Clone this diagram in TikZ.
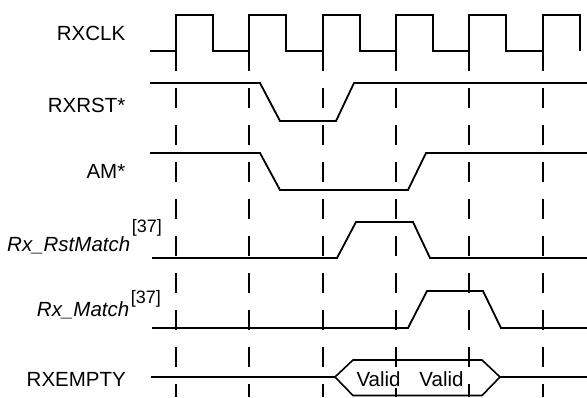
\documentclass[tikz,border=0pt]{standalone}
\usepackage{fontspec}
\setmainfont{Liberation Sans}
\begin{document}
\begin{tikzpicture}[x=1pt,y=-1pt,
  sig/.style={line width=1.8pt, line join=miter},
  grid/.style={line width=1.8pt, dash pattern=on 20pt off 17pt},
  lbl/.style={anchor=base east, inner sep=0pt, font=\fontsize{20.5}{24}\selectfont},
  vtxt/.style={anchor=base, inner sep=0pt, font=\fontsize{20.5}{24}\selectfont}]
\useasboundingbox (0,0) rectangle (587,397);
% labels
\node[lbl] (lclk) at (125.5,40) {RXCLK};
\node[lbl] (lrst) at (125.5,112) {RXRST*};
\node[lbl] (lam) at (125.5,178) {AM*};
\node[lbl] (lrm) at (162,251) {\itshape Rx\_RstMatch\upshape\kern1.5pt\raisebox{19pt}{\fontsize{18}{20}\selectfont[37]}};
\node[lbl] (lm) at (161,316) {\itshape Rx\_Match\upshape\kern1.5pt\raisebox{13pt}{\fontsize{18}{20}\selectfont[37]}};
\node[lbl] (lemp) at (126,386.7) {RXEMPTY};
% dashed reference lines at rising edges
\foreach \k in {0,...,5}{
  \draw[grid] ({176+73.33*\k},51) -- ({176+73.33*\k},397);
}
% clock
\draw[sig] (150,51)
  \foreach \k in {0,...,5}{ -- ({176+73.33*\k},51) -- ({176+73.33*\k},15) -- ({213+73.33*\k},15) -- ({213+73.33*\k},51) };
% RXRST*
\draw[sig] (150,83) -- (260,83) -- (280,121) -- (336,121) -- (354,83) -- (587,83);
% AM*
\draw[sig] (150,153) -- (260,153) -- (280,190) -- (408,190) -- (426,153) -- (587,153);
% Rx_RstMatch
\draw[sig] (152,258) -- (337,258) -- (356,222) -- (413,222) -- (430,258) -- (587,258);
% Rx_Match
\draw[sig] (152,328) -- (408,328) -- (427,291) -- (483,291) -- (501,328) -- (587,328);
% RXEMPTY
\coordinate (hl) at (335,377);
\coordinate (hr) at (500,377);
\draw[sig] (151,377) -- (hl);
\draw[line width=1.6pt, fill=white] (hl) -- (353,360) -- (482,360) -- (hr) -- (482,395.5) -- (353,395.5) -- cycle;
\draw[sig] (hr) -- (587,377);
\draw[grid] (396,51) -- (396,397);
\draw[grid] (322.67,51) -- (322.67,397);
\draw[grid] (469.33,51) -- (469.33,397);
\node[vtxt, fill=white, inner sep=1pt] (v1) at (378.6,386.7) {Valid};
\node[vtxt, fill=white, inner sep=1pt] (v2) at (441.5,386.7) {Valid};
\end{tikzpicture}
\end{document}
